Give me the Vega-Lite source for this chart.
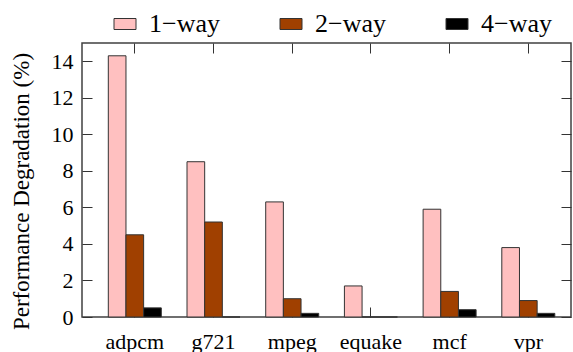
{
  "$schema": "https://vega.github.io/schema/vega-lite/v6.json",
  "width": 489,
  "height": 274,
  "autosize": {"type": "none"},
  "padding": {"left": 82, "top": 43, "right": 2, "bottom": 35},
  "config": {
    "font": "Liberation Serif",
    "view": {"stroke": "#404040", "strokeWidth": 1.5},
    "axis": {"labelColor": "#000", "titleColor": "#000", "tickColor": "#333", "tickWidth": 1, "zindex": 1, "grid": false, "domain": false}
  },
  "data": {
    "values": [
      {"bench": "adpcm", "config": "1−way", "value": 14.3},
      {"bench": "adpcm", "config": "2−way", "value": 4.5},
      {"bench": "adpcm", "config": "4−way", "value": 0.5},
      {"bench": "g721", "config": "1−way", "value": 8.5},
      {"bench": "g721", "config": "2−way", "value": 5.2},
      {"bench": "g721", "config": "4−way", "value": 0},
      {"bench": "mpeg", "config": "1−way", "value": 6.3},
      {"bench": "mpeg", "config": "2−way", "value": 1.0},
      {"bench": "mpeg", "config": "4−way", "value": 0.2},
      {"bench": "equake", "config": "1−way", "value": 1.7},
      {"bench": "equake", "config": "2−way", "value": 0},
      {"bench": "equake", "config": "4−way", "value": 0},
      {"bench": "mcf", "config": "1−way", "value": 5.9},
      {"bench": "mcf", "config": "2−way", "value": 1.4},
      {"bench": "mcf", "config": "4−way", "value": 0.4},
      {"bench": "vpr", "config": "1−way", "value": 3.8},
      {"bench": "vpr", "config": "2−way", "value": 0.9},
      {"bench": "vpr", "config": "4−way", "value": 0.2}
    ]
  },
  "layer": [
    {
      "mark": {"type": "bar", "stroke": "#333", "strokeWidth": 1},
      "encoding": {
        "x": {
          "field": "bench", "type": "nominal",
          "sort": ["adpcm", "g721", "mpeg", "equake", "mcf", "vpr"],
          "scale": {"paddingInner": 0.3266, "paddingOuter": 0.27, "align": 0.619},
          "axis": {"orient": "bottom", "title": null, "tickSize": -10, "labelFont": "Liberation Serif", "labelFontSize": 22, "labelPadding": 24, "labelAngle": 0}
        },
        "xOffset": {
          "field": "config", "type": "nominal",
          "sort": ["1−way", "2−way", "4−way"],
          "scale": {"paddingInner": 0, "paddingOuter": 0}
        },
        "y": {
          "field": "value", "type": "quantitative",
          "scale": {"domain": [0, 15], "nice": false},
          "axis": {
            "values": [0, 2, 4, 6, 8, 10, 12, 14],
            "title": "Performance Degradation (%)",
            "labelFont": "Liberation Serif", "titleFont": "Liberation Serif",
            "tickSize": -10, "labelPadding": 19, "labelFontSize": 22,
            "titleFontSize": 23, "titleFontWeight": "normal",
            "titleX": -61, "titleY": 148, "titleAngle": -90, "titleAlign": "center", "titleBaseline": "middle"
          }
        },
        "fill": {
          "field": "config", "type": "nominal",
          "scale": {"domain": ["1−way", "2−way", "4−way"], "range": ["#FFC0C0", "#A04000", "#000000"]},
          "legend": {
            "title": null, "orient": "none", "legendX": 30, "legendY": -32,
            "direction": "horizontal", "columns": 3,
            "labelFont": "Liberation Serif",
            "labelFontSize": 26, "labelColor": "#000", "labelOffset": 11,
            "symbolType": "M-1,-0.5H1V0.5H-1Z", "symbolSize": 484,
            "symbolStrokeColor": "#333", "symbolStrokeWidth": 1, "symbolOpacity": 1,
            "columnPadding": 58
          }
        }
      }
    },
    {
      "mark": {"type": "tick", "opacity": 0},
      "encoding": {
        "x": {
          "field": "bench", "type": "nominal",
          "sort": ["adpcm", "g721", "mpeg", "equake", "mcf", "vpr"],
          "axis": {"orient": "top", "title": null, "labels": false, "tickSize": -10}
        },
        "y": {
          "field": "value", "type": "quantitative",
          "axis": {"orient": "right", "title": null, "labels": false, "tickSize": -10, "values": [0, 2, 4, 6, 8, 10, 12, 14]}
        }
      }
    }
  ],
  "resolve": {"axis": {"x": "independent", "y": "independent"}}
}
